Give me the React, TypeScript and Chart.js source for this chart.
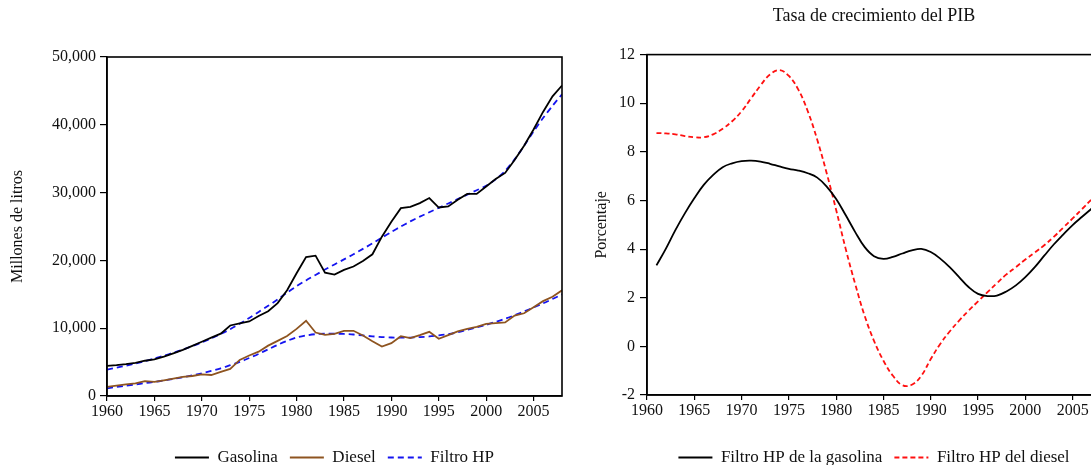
import React, { useEffect, useRef } from 'react';
import { Chart, registerables } from 'chart.js';

Chart.register(...registerables);

// ---------- Data (left panel) ----------
const yearsLeft = [
  1960, 1961, 1962, 1963, 1964, 1965, 1966, 1967, 1968, 1969,
  1970, 1971, 1972, 1973, 1974, 1975, 1976, 1977, 1978, 1979,
  1980, 1981, 1982, 1983, 1984, 1985, 1986, 1987, 1988, 1989,
  1990, 1991, 1992, 1993, 1994, 1995, 1996, 1997, 1998, 1999,
  2000, 2001, 2002, 2003, 2004, 2005, 2006, 2007, 2008,
];

const gasolina = [
  4450, 4550, 4700, 4900, 5200, 5400, 5800, 6300, 6800, 7400,
  8000, 8600, 9200, 10400, 10700, 11000, 11800, 12500, 13700, 15600,
  18100, 20500, 20700, 18200, 17900, 18600, 19100, 19900, 20900, 23500,
  25700, 27700, 27900, 28450, 29200, 27800, 27950, 28950, 29800, 29800,
  30900, 32000, 32900, 34800, 36900, 39300, 41900, 44200, 45800,
];

const gasolinaHP = [
  3900, 4180, 4480, 4800, 5150, 5530, 5940, 6380, 6850, 7350,
  7900, 8500, 9150, 9850, 10650, 11500, 12400, 13300, 14250, 15250,
  16200, 17050, 17850, 18650, 19400, 20150, 20900, 21700, 22500, 23350,
  24200, 25000, 25750, 26450, 27100, 27750, 28400, 29050, 29700, 30350,
  31000, 31950, 33200, 34900, 36900, 39000, 41000, 42800, 44500,
];

const diesel = [
  1330, 1530, 1700, 1860, 2200, 2070, 2320, 2560, 2810, 2950,
  3200, 3100, 3550, 4000, 5320, 5970, 6540, 7430, 8130, 8860,
  9900, 11100, 9360, 9030, 9170, 9620, 9620, 8920, 8080, 7300,
  7790, 8820, 8530, 8970, 9470, 8430, 8970, 9520, 9900, 10200,
  10650, 10750, 10850, 11860, 12200, 13100, 13990, 14640, 15580,
];

const dieselHP = [
  1130, 1330, 1530, 1710, 1890, 2070, 2290, 2520, 2760, 3040,
  3350, 3700, 4090, 4540, 5030, 5600, 6210, 6880, 7540, 8130,
  8620, 8930, 9120, 9180, 9180, 9150, 9070, 8930, 8800, 8690,
  8630, 8610, 8620, 8680, 8780, 8930, 9120, 9400, 9760, 10130,
  10500, 10930, 11390, 11920, 12470, 13060, 13660, 14310, 14980,
];

const leftYTicks = [0, 10000, 20000, 30000, 40000, 50000];

// ---------- Data (right panel) ----------
const yearsRight = [
  1961, 1962, 1963, 1964, 1965, 1966, 1967, 1968, 1969,
  1970, 1971, 1972, 1973, 1974, 1975, 1976, 1977, 1978, 1979,
  1980, 1981, 1982, 1983, 1984, 1985, 1986, 1987, 1988, 1989,
  1990, 1991, 1992, 1993, 1994, 1995, 1996, 1997, 1998, 1999,
  2000, 2001, 2002, 2003, 2004, 2005, 2006, 2007, 2008,
];

const hpGasolinaRate = [
  3.33, 4.02, 4.78, 5.47, 6.09, 6.64, 7.05, 7.37, 7.53,
  7.62, 7.64, 7.6, 7.51, 7.4, 7.3, 7.23, 7.12, 6.94, 6.57,
  6.06, 5.4, 4.71, 4.09, 3.71, 3.6, 3.68, 3.82, 3.95, 4.01,
  3.88, 3.61, 3.26, 2.85, 2.44, 2.16, 2.07, 2.09, 2.26, 2.51,
  2.85, 3.26, 3.73, 4.19, 4.6, 4.99, 5.33, 5.66, 5.98,
];

const hpDieselRate = [
  8.77, 8.76, 8.72, 8.65, 8.6, 8.6, 8.72, 8.95, 9.26,
  9.67, 10.2, 10.73, 11.18, 11.36, 11.12, 10.56, 9.67, 8.5, 7.12,
  5.61, 4.02, 2.58, 1.27, 0.23, -0.59, -1.21, -1.6, -1.58, -1.21,
  -0.52, 0.1, 0.61, 1.06, 1.47, 1.85, 2.23, 2.6, 2.96, 3.26,
  3.57, 3.86, 4.16, 4.5, 4.88, 5.26, 5.65, 6.05, 6.45,
];

const rightYTicks = [-2, 0, 2, 4, 6, 8, 10, 12];
const xTickYears = [1960, 1965, 1970, 1975, 1980, 1985, 1990, 1995, 2000, 2005];

// ---------- Helpers ----------
const FONT = "'Liberation Serif', 'Times New Roman', serif";

const pts = (xs: number[], ys: number[]) => xs.map((x, i) => ({ x, y: ys[i] }));

const framePlugin = {
  id: 'frameBox',
  afterDatasetsDraw(chart: any) {
    const { ctx, chartArea } = chart;
    const { left, top, right, bottom } = chartArea;
    ctx.save();
    ctx.strokeStyle = '#000';
    ctx.lineWidth = 1.6;
    ctx.strokeRect(left, top, right - left, bottom - top);
    ctx.restore();
  },
};

function makeLegend(maxItems: number) {
  return {
    position: 'bottom' as const,
    fullSize: false,
    maxHeight: 28,
    labels: {
      usePointStyle: true,
      pointStyle: 'line',
      pointStyleWidth: 34,
      padding: 12,
      color: '#111',
      font: { family: FONT, size: 17 },
      generateLabels: (chart: any) =>
        chart.data.datasets
          .map((ds: any, i: number) => ({
            text: ds.label,
            datasetIndex: i,
            strokeStyle: ds.borderColor,
            fillStyle: ds.borderColor,
            lineWidth: ds.borderWidth,
            lineDash: ds.borderDash || [],
            pointStyle: 'line',
            fontColor: '#111',
            hidden: false,
          }))
          .slice(0, maxItems),
    },
  };
}

function xScale(height: number) {
  return {
    type: 'linear' as const,
    min: 1960,
    max: 2008,
    afterBuildTicks: (s: any) => {
      s.ticks = xTickYears.map((v) => ({ value: v }));
    },
    afterFit: (s: any) => {
      s.height = height;
    },
    ticks: {
      includeBounds: false,
      autoSkip: false,
      maxRotation: 0,
      padding: 1,
      color: '#111',
      font: { family: FONT, size: 16 },
      callback: (v: any) => String(v),
    },
    grid: {
      drawOnChartArea: false,
      drawTicks: true,
      tickLength: 5,
      color: '#000',
      lineWidth: 1.2,
    },
    border: { display: true, color: '#000', width: 1.5 },
  };
}

function LeftChart() {
  const ref = useRef<HTMLCanvasElement | null>(null);
  useEffect(() => {
    if (!ref.current) return;
    const chart = new Chart(ref.current, {
      type: 'line',
      data: {
        datasets: [
          {
            label: 'Gasolina',
            data: pts(yearsLeft, gasolina),
            borderColor: '#000000',
            borderWidth: 1.8,
            pointRadius: 0,
            tension: 0,
          },
          {
            label: 'Diesel',
            data: pts(yearsLeft, diesel),
            borderColor: '#8E5420',
            borderWidth: 1.8,
            pointRadius: 0,
            tension: 0,
          },
          {
            label: 'Filtro HP',
            data: pts(yearsLeft, gasolinaHP),
            borderColor: '#1414F0',
            borderWidth: 1.8,
            borderDash: [6, 4],
            pointRadius: 0,
            tension: 0.3,
          },
          {
            label: 'Filtro HP (diesel)',
            data: pts(yearsLeft, dieselHP),
            borderColor: '#1414F0',
            borderWidth: 1.8,
            borderDash: [6, 4],
            pointRadius: 0,
            tension: 0.3,
          },
        ],
      },
      options: {
        animation: false,
        responsive: false,
        devicePixelRatio: 1,
        layout: { padding: { left: 4, right: 18, top: 57, bottom: 0 } },
        plugins: {
          legend: makeLegend(3),
          title: { display: false },
          tooltip: { enabled: false },
        },
        scales: {
          x: xScale(41),
          y: {
            type: 'linear',
            min: 0,
            max: 50000,
            afterBuildTicks: (s: any) => {
              s.ticks = leftYTicks.map((v) => ({ value: v }));
            },
            afterFit: (s: any) => {
              s.width = 103;
            },
            ticks: {
              padding: 4,
              color: '#111',
              font: { family: FONT, size: 16 },
              callback: (v: any) => Number(v).toLocaleString('en-US'),
            },
            grid: {
              drawOnChartArea: false,
              drawTicks: true,
              tickLength: 7,
              color: '#000',
              lineWidth: 1.2,
            },
            border: { display: true, color: '#000', width: 1.5 },
            title: {
              display: true,
              text: 'Millones de litros',
              color: '#111',
              font: { family: FONT, size: 16 },
              padding: { top: 4, bottom: 0 },
            },
          },
        },
      } as any,
      plugins: [framePlugin],
    });
    return () => chart.destroy();
  }, []);
  return (
    <canvas
      ref={ref}
      width={580}
      height={465}
      style={{ position: 'absolute', left: 0, top: 0, width: 580, height: 465 }}
    />
  );
}

function RightChart() {
  const ref = useRef<HTMLCanvasElement | null>(null);
  useEffect(() => {
    if (!ref.current) return;
    const chart = new Chart(ref.current, {
      type: 'line',
      data: {
        datasets: [
          {
            label: 'Filtro HP de la gasolina',
            data: pts(yearsRight, hpGasolinaRate),
            borderColor: '#000000',
            borderWidth: 1.8,
            pointRadius: 0,
            tension: 0.4,
          },
          {
            label: 'Filtro HP del diesel',
            data: pts(yearsRight, hpDieselRate),
            borderColor: '#FF1010',
            borderWidth: 1.8,
            borderDash: [5, 3],
            pointRadius: 0,
            tension: 0.4,
          },
        ],
      },
      options: {
        animation: false,
        responsive: false,
        devicePixelRatio: 1,
        layout: { padding: { left: 4, right: 19, top: 0, bottom: 0 } },
        plugins: {
          legend: makeLegend(2),
          title: {
            display: true,
            text: 'Tasa de crecimiento del PIB',
            fullSize: false,
            color: '#111',
            font: { family: FONT, size: 18, weight: 'normal' },
            padding: { top: 5, bottom: 28 },
          },
          tooltip: { enabled: false },
        },
        scales: {
          x: xScale(42),
          y: {
            type: 'linear',
            min: -2,
            max: 12,
            afterBuildTicks: (s: any) => {
              s.ticks = rightYTicks.map((v) => ({ value: v }));
            },
            afterFit: (s: any) => {
              s.width = 63;
            },
            ticks: {
              padding: 5,
              color: '#111',
              font: { family: FONT, size: 16 },
              callback: (v: any) => String(v),
            },
            grid: {
              drawOnChartArea: false,
              drawTicks: true,
              tickLength: 7,
              color: '#000',
              lineWidth: 1.2,
            },
            border: { display: true, color: '#000', width: 1.5 },
            title: {
              display: true,
              text: 'Porcentaje',
              color: '#111',
              font: { family: FONT, size: 16 },
              padding: { top: 8, bottom: 0 },
            },
          },
        },
      } as any,
      plugins: [framePlugin],
    });
    return () => chart.destroy();
  }, []);
  return (
    <canvas
      ref={ref}
      width={540}
      height={465}
      style={{ position: 'absolute', left: 580, top: 0, width: 540, height: 465 }}
    />
  );
}

export default function App() {
  return (
    <div
      style={{
        position: 'absolute',
        left: 0,
        top: 0,
        width: 1091,
        height: 465,
        overflow: 'hidden',
        background: '#ffffff',
      }}
    >
      <LeftChart />
      <RightChart />
    </div>
  );
}
